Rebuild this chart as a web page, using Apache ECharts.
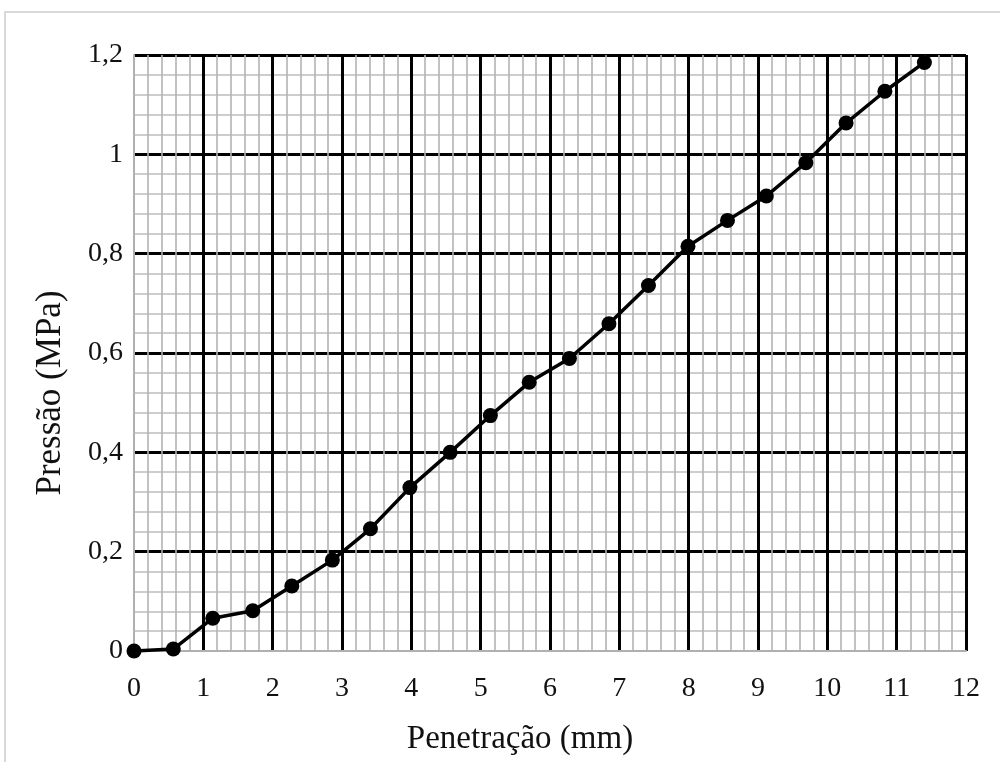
<!DOCTYPE html>
<html>
<head>
<meta charset="utf-8">
<script src="https://cdn.jsdelivr.net/npm/echarts@6/dist/echarts.min.js"></script>
<style>html,body{margin:0;padding:0;background:#fff}#c{width:1000px;height:762px}</style>
</head>
<body>
<div id="c"></div>
<script>
var penetracao = [0, 0.567, 1.136, 1.713, 2.276, 2.861, 3.41, 3.98, 4.56, 5.14, 5.70, 6.28, 6.85, 7.42, 7.99, 8.56, 9.12, 9.69, 10.27, 10.83, 11.40];
var pressao = [0, 0.004, 0.066, 0.081, 0.131, 0.183, 0.246, 0.329, 0.400, 0.474, 0.541, 0.589, 0.659, 0.736, 0.815, 0.867, 0.916, 0.983, 1.063, 1.127, 1.185];
var xTitle = 'Penetração (mm)';
var yTitle = 'Pressão (MPa)';

var pts = penetracao.map(function (x, i) { return [x, pressao[i]]; });
var font = 'Liberation Serif';
var chart = echarts.init(document.getElementById('c'), null, {renderer: 'canvas'});
chart.setOption({
  animation: false,
  backgroundColor: '#fff',
  graphic: [{
    type: 'rect', shape: {x: 5, y: 12, width: 1010, height: 800},
    style: {fill: 'none', stroke: '#d9d9d9', lineWidth: 2}, z: -10, silent: true
  }],
  grid: {left: 134, right: 34, top: 55, bottom: 111, containLabel: false},
  xAxis: {
    type: 'value', min: 0, max: 12, interval: 1,
    name: xTitle, nameLocation: 'middle', nameGap: 72,
    nameTextStyle: {fontFamily: font, fontSize: 33, color: '#111', padding: [0, 60, 0, 0]},
    axisLine: {show: true, lineStyle: {color: '#b0b0b0', width: 2}},
    axisTick: {show: false},
    axisLabel: {fontFamily: font, fontSize: 28, color: '#111', margin: 24},
    splitLine: {show: true, showMinLine: false, lineStyle: {color: '#000', width: 3}},
    minorTick: {show: false, splitNumber: 5},
    minorSplitLine: {show: true, lineStyle: {color: '#b3b3b3', width: 1.6}}
  },
  yAxis: {
    type: 'value', min: 0, max: 1.2, interval: 0.2,
    name: yTitle, nameLocation: 'middle', nameGap: 66,
    nameTextStyle: {fontFamily: font, fontSize: 35, color: '#111', padding: [0, 80, 0, 0]},
    axisLine: {show: true, lineStyle: {color: '#b0b0b0', width: 2}},
    axisTick: {show: false},
    axisLabel: {fontFamily: font, fontSize: 28, color: '#111', margin: 11,
      formatter: function (v) { return String(+v.toFixed(1)).replace('.', ','); }},
    splitLine: {show: true, showMinLine: false, lineStyle: {color: '#000', width: 3}},
    minorTick: {show: false, splitNumber: 5},
    minorSplitLine: {show: true, lineStyle: {color: '#bdbdbd', width: 1.6}}
  },
  series: [{
    type: 'line', data: pts, clip: false,
    symbol: 'circle', symbolSize: 15,
    lineStyle: {color: '#000', width: 3.5},
    itemStyle: {color: '#000'}
  }]
});
</script>
</body>
</html>
